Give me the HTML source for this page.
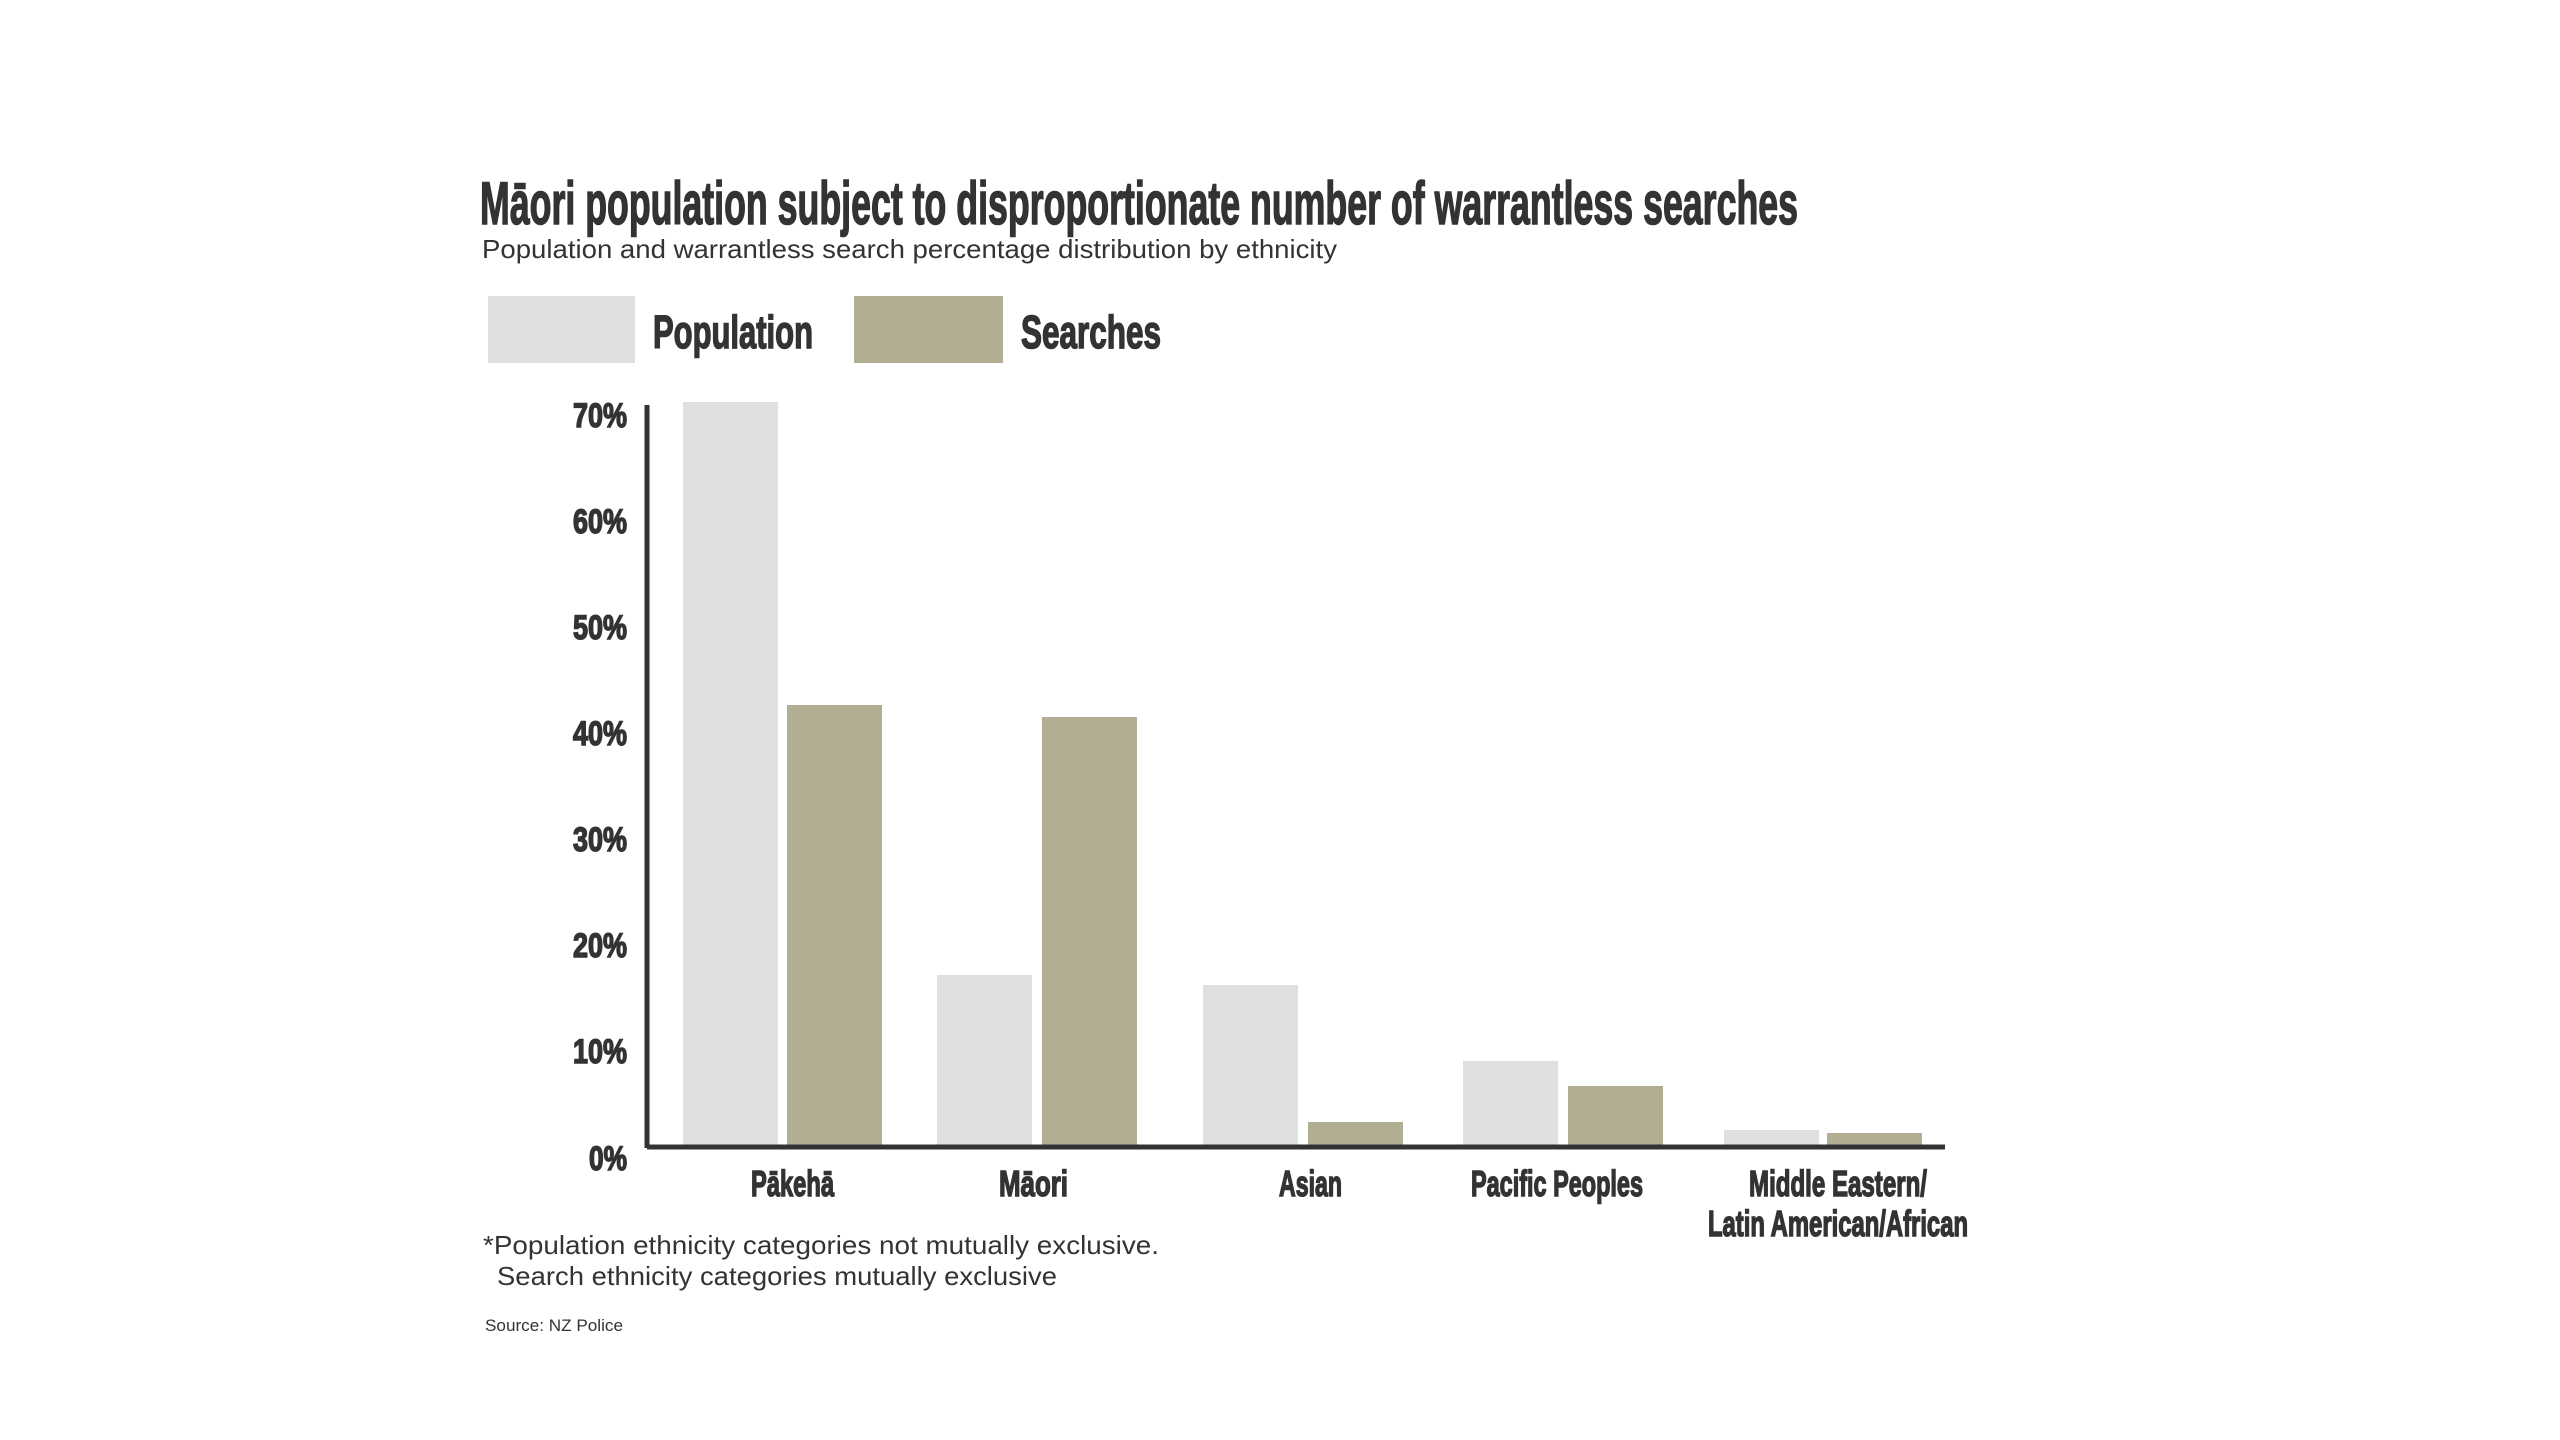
<!DOCTYPE html>
<html><head><meta charset="utf-8"><style>
html,body{margin:0;padding:0;background:#fff;width:2560px;height:1440px;overflow:hidden}
svg{display:block}
.h{font-family:"Liberation Sans Narrow","Liberation Sans",sans-serif;font-weight:bold;fill:#333;stroke:#333;stroke-width:1.5}
.r{font-family:"Liberation Sans","DejaVu Sans",sans-serif;fill:#333}
</style></head><body>
<svg width="2560" height="1440" viewBox="0 0 2560 1440" xmlns="http://www.w3.org/2000/svg">
<text class="h" x="480" y="224" font-size="60" textLength="1318" lengthAdjust="spacingAndGlyphs">Māori population subject to disproportionate number of warrantless searches</text>
<text class="r" x="482" y="258" font-size="26" textLength="855" lengthAdjust="spacingAndGlyphs">Population and warrantless search percentage distribution by ethnicity</text>
<rect x="488" y="296" width="147" height="67" fill="#dfdfdf"/>
<text class="h" x="653" y="348" font-size="46" textLength="160" lengthAdjust="spacingAndGlyphs">Population</text>
<rect x="854" y="296" width="149" height="67" fill="#b2ae94"/>
<text class="h" x="1021" y="348" font-size="46" textLength="140" lengthAdjust="spacingAndGlyphs">Searches</text>
<g class="h" font-size="34">
<text x="573" y="427" textLength="54" lengthAdjust="spacingAndGlyphs">70%</text>
<text x="573" y="533" textLength="54" lengthAdjust="spacingAndGlyphs">60%</text>
<text x="573" y="639" textLength="54" lengthAdjust="spacingAndGlyphs">50%</text>
<text x="573" y="745" textLength="54" lengthAdjust="spacingAndGlyphs">40%</text>
<text x="573" y="851" textLength="54" lengthAdjust="spacingAndGlyphs">30%</text>
<text x="573" y="957" textLength="54" lengthAdjust="spacingAndGlyphs">20%</text>
<text x="573" y="1063" textLength="54" lengthAdjust="spacingAndGlyphs">10%</text>
<text x="589" y="1170" textLength="38" lengthAdjust="spacingAndGlyphs">0%</text>
</g>
<g fill="#dfdfdf">
<rect x="683" y="402" width="95" height="744"/>
<rect x="937" y="975" width="95" height="171"/>
<rect x="1203" y="985" width="95" height="161"/>
<rect x="1463" y="1061" width="95" height="85"/>
<rect x="1724" y="1130" width="95" height="16"/>
</g>
<g fill="#b2ae94">
<rect x="787" y="705" width="95" height="441"/>
<rect x="1042" y="717" width="95" height="429"/>
<rect x="1308" y="1122" width="95" height="24"/>
<rect x="1568" y="1086" width="95" height="60"/>
<rect x="1827" y="1133" width="95" height="13"/>
</g>
<line x1="647" y1="405" x2="647" y2="1148" stroke="#333" stroke-width="5"/>
<line x1="647" y1="1147" x2="1945" y2="1147" stroke="#333" stroke-width="5"/>
<g class="h" font-size="36">
<text x="751" y="1196" textLength="83" lengthAdjust="spacingAndGlyphs">Pākehā</text>
<text x="999" y="1196" textLength="69" lengthAdjust="spacingAndGlyphs">Māori</text>
<text x="1279" y="1196" textLength="63" lengthAdjust="spacingAndGlyphs">Asian</text>
<text x="1471" y="1196" textLength="172" lengthAdjust="spacingAndGlyphs">Pacific Peoples</text>
<text x="1749" y="1196" textLength="178" lengthAdjust="spacingAndGlyphs">Middle Eastern/</text>
<text x="1708" y="1236" textLength="260" lengthAdjust="spacingAndGlyphs">Latin American/African</text>
</g>
<text class="r" x="483" y="1254" font-size="26" textLength="676" lengthAdjust="spacingAndGlyphs">*Population ethnicity categories not mutually exclusive.</text>
<text class="r" x="497" y="1285" font-size="26" textLength="560" lengthAdjust="spacingAndGlyphs">Search ethnicity categories mutually exclusive</text>
<text class="r" x="485" y="1331" font-size="17" textLength="138" lengthAdjust="spacingAndGlyphs">Source: NZ Police</text>
</svg>
</body></html>
